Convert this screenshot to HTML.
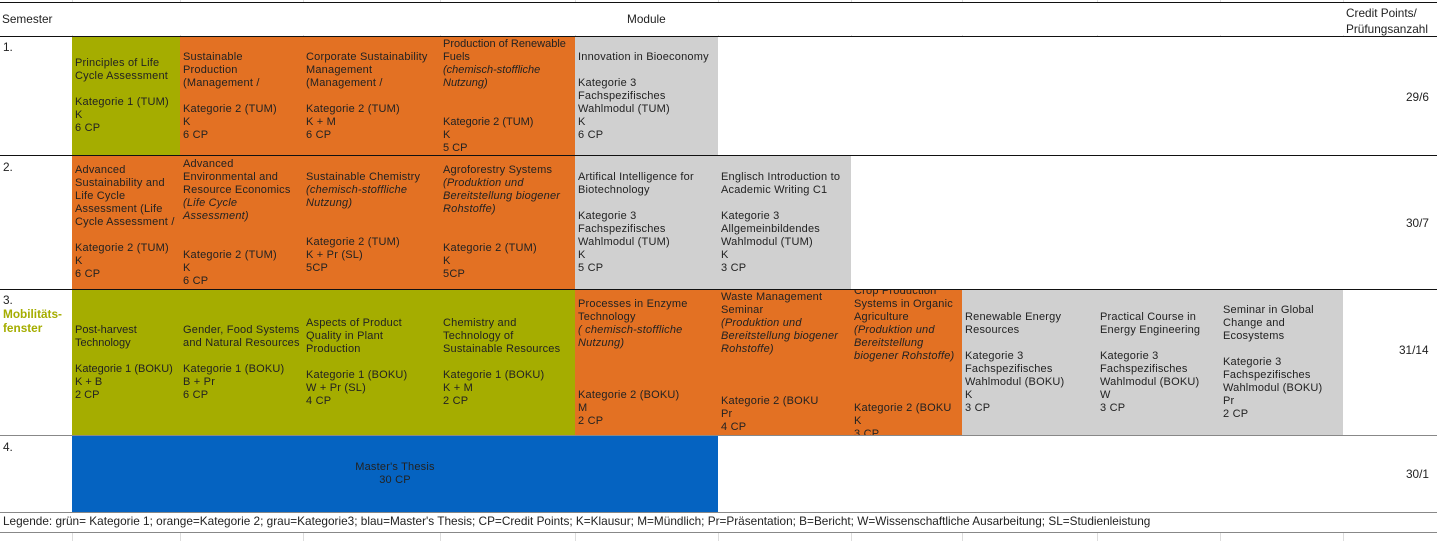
<!DOCTYPE html>
<html><head><meta charset="utf-8">
<style>
body{margin:0;width:1437px;height:541px;background:#fff;position:relative;overflow:hidden;font-family:"Liberation Sans",sans-serif;}
.c{position:absolute;box-sizing:border-box;padding:0 3px;font-size:11px;line-height:13px;color:#222;display:flex;flex-direction:column;justify-content:center;overflow:hidden;letter-spacing:0.2px}
.g{background:#a5ad00}.o{background:#e37123}.y{background:#d0d0d0}.b{background:#0563c1;align-items:center;text-align:center}
.h{position:absolute;left:0;width:1437px;height:1px;background:#111}
.hl{position:absolute;left:0;width:1437px;height:1px;background:#888}
.v{position:absolute;width:1px;background:#ddd}
.t{position:absolute;font-size:11.8px;color:#222}
i{font-style:italic}
</style></head><body>
<div class="v" style="left:72px;top:0;height:541px"></div>
<div class="v" style="left:180px;top:0;height:541px"></div>
<div class="v" style="left:303px;top:0;height:541px"></div>
<div class="v" style="left:440px;top:0;height:541px"></div>
<div class="v" style="left:575px;top:0;height:541px"></div>
<div class="v" style="left:718px;top:0;height:541px"></div>
<div class="v" style="left:851px;top:0;height:541px"></div>
<div class="v" style="left:962px;top:0;height:541px"></div>
<div class="v" style="left:1097px;top:0;height:541px"></div>
<div class="v" style="left:1220px;top:0;height:541px"></div>
<div class="v" style="left:1343px;top:0;height:541px"></div>
<div style="position:absolute;left:0;top:3px;width:1437px;height:32px;background:#fff"></div>
<div style="position:absolute;left:0;top:513px;width:1437px;height:19px;background:#fff"></div>
<div style="position:absolute;left:0;top:37px;width:1437px;height:475px;background:#fff"></div>

<div class="h" style="top:2px"></div>
<div class="t" style="left:2px;top:12px">Semester</div>
<div class="t" style="left:627px;top:12px">Module</div>
<div class="t" style="left:1346px;top:5px;line-height:16px">Credit Points/<br>Prüfungsanzahl</div>
<div class="h" style="top:36px"></div>

<!-- Row 1 -->
<div class="t" style="left:3px;top:40px">1.</div>
<div class="c g" style="left:72px;top:37px;width:108px;height:118px">Principles of Life Cycle Assessment<br><br>Kategorie 1 (TUM)<br>K<br>6 CP</div>
<div class="c o" style="left:180px;top:37px;width:123px;height:118px">Sustainable<br>Production (Management /<br><br>Kategorie 2 (TUM)<br>K<br>6 CP</div>
<div class="c o" style="left:303px;top:37px;width:137px;height:118px">Corporate Sustainability Management (Management /<br><br>Kategorie 2 (TUM)<br>K + M<br>6 CP</div>
<div class="c o" style="left:440px;top:37px;width:135px;height:118px;letter-spacing:0">Production of Renewable Fuels<br><i>(chemisch-stoffliche Nutzung)</i><br><br>Kategorie 2 (TUM)<br>K<br>5 CP</div>
<div class="c y" style="left:575px;top:37px;width:143px;height:118px">Innovation in Bioeconomy<br><br>Kategorie 3 Fachspezifisches Wahlmodul (TUM)<br>K<br>6 CP</div>
<div class="t" style="left:1406px;top:90px">29/6</div>
<div class="h" style="top:155px"></div>

<!-- Row 2 -->
<div class="t" style="left:3px;top:160px">2.</div>
<div class="c o" style="left:72px;top:156px;width:108px;height:133px">Advanced Sustainability and Life Cycle Assessment (Life Cycle Assessment /<br><br>Kategorie 2 (TUM)<br>K<br>6 CP</div>
<div class="c o" style="left:180px;top:156px;width:123px;height:133px">Advanced Environmental and Resource Economics <i>(Life Cycle Assessment)</i><br><br>Kategorie 2 (TUM)<br>K<br>6 CP</div>
<div class="c o" style="left:303px;top:156px;width:137px;height:133px">Sustainable Chemistry <i>(chemisch-stoffliche Nutzung)</i><br><br>Kategorie 2 (TUM)<br>K + Pr (SL)<br>5CP</div>
<div class="c o" style="left:440px;top:156px;width:135px;height:133px">Agroforestry Systems <i>(Produktion und Bereitstellung biogener Rohstoffe)</i><br><br>Kategorie 2 (TUM)<br>K<br>5CP</div>
<div class="c y" style="left:575px;top:156px;width:143px;height:133px">Artifical Intelligence for Biotechnology<br><br>Kategorie 3 Fachspezifisches Wahlmodul (TUM)<br>K<br>5 CP</div>
<div class="c y" style="left:718px;top:156px;width:133px;height:133px">Englisch Introduction to Academic Writing C1<br><br>Kategorie 3 Allgemeinbildendes Wahlmodul (TUM)<br>K<br>3 CP</div>
<div class="t" style="left:1406px;top:216px">30/7</div>
<div class="h" style="top:289px"></div>

<!-- Row 3 -->
<div class="t" style="left:3px;top:293px;line-height:14px">3.<br><b style="color:#a5ad00">Mobilitäts-<br>fenster</b></div>
<div class="c g" style="left:72px;top:290px;width:108px;height:145px;letter-spacing:0">Post-harvest Technology<br><br>Kategorie 1 (BOKU)<br>K + B<br>2 CP</div>
<div class="c g" style="left:180px;top:290px;width:123px;height:145px">Gender, Food Systems and Natural Resources<br><br>Kategorie 1 (BOKU)<br>B + Pr<br>6 CP</div>
<div class="c g" style="left:303px;top:290px;width:137px;height:145px">Aspects of Product Quality in Plant Production<br><br>Kategorie 1 (BOKU)<br>W + Pr (SL)<br>4 CP</div>
<div class="c g" style="left:440px;top:290px;width:135px;height:145px">Chemistry and Technology of Sustainable Resources<br><br>Kategorie 1 (BOKU)<br>K + M<br>2 CP</div>
<div class="c o" style="left:575px;top:290px;width:143px;height:145px">Processes in Enzyme Technology<br><i>( chemisch-stoffliche Nutzung)</i><br><br><br>Kategorie 2 (BOKU)<br>M<br>2 CP</div>
<div class="c o" style="left:718px;top:290px;width:133px;height:145px">Waste Management Seminar<br><i>(Produktion und Bereitstellung biogener Rohstoffe)</i><br><br><br>Kategorie 2 (BOKU<br>Pr<br>4 CP</div>
<div class="c o" style="left:851px;top:290px;width:111px;height:145px">Crop Production Systems in Organic Agriculture<br><i>(Produktion und Bereitstellung biogener Rohstoffe)</i><br><br><br>Kategorie 2 (BOKU<br>K<br>3 CP</div>
<div class="c y" style="left:962px;top:290px;width:135px;height:145px">Renewable Energy Resources<br><br>Kategorie 3 Fachspezifisches Wahlmodul (BOKU)<br>K<br>3 CP</div>
<div class="c y" style="left:1097px;top:290px;width:123px;height:145px">Practical Course in Energy Engineering<br><br>Kategorie 3 Fachspezifisches Wahlmodul (BOKU)<br>W<br>3 CP</div>
<div class="c y" style="left:1220px;top:290px;width:123px;height:145px">Seminar in Global Change and Ecosystems<br><br>Kategorie 3 Fachspezifisches Wahlmodul (BOKU)<br>Pr<br>2 CP</div>
<div class="t" style="left:1399px;top:343px">31/14</div>
<div class="hl" style="top:435px"></div>

<!-- Row 4 -->
<div class="t" style="left:3px;top:440px">4.</div>
<div class="c b" style="left:72px;top:436px;width:646px;height:76px">Master's Thesis<br>30 CP</div>
<div class="t" style="left:1406px;top:467px">30/1</div>
<div class="hl" style="top:512px"></div>

<div class="t" style="left:3px;top:514px">Legende: grün= Kategorie 1; orange=Kategorie 2; grau=Kategorie3; blau=Master's Thesis; CP=Credit Points; K=Klausur; M=Mündlich; Pr=Präsentation; B=Bericht; W=Wissenschaftliche Ausarbeitung; SL=Studienleistung</div>
<div class="hl" style="top:532px"></div>
</body></html>
